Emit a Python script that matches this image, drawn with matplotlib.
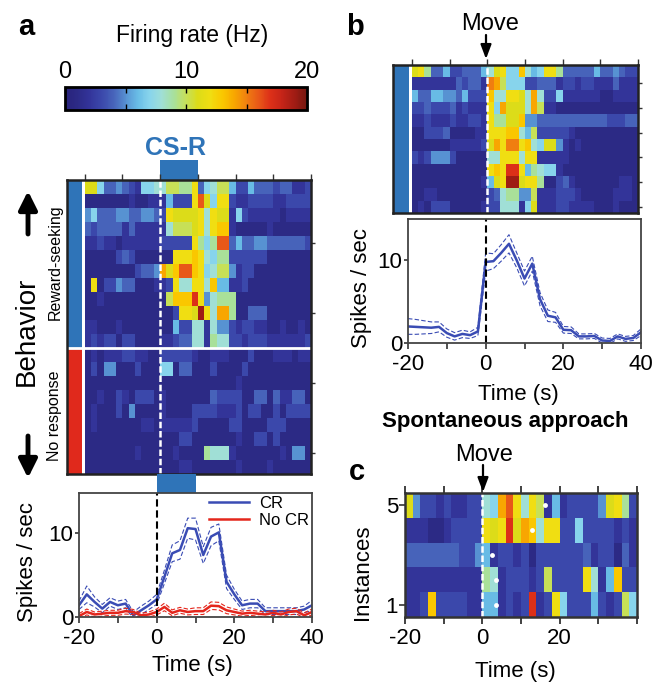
import numpy as np
import matplotlib
matplotlib.use("Agg")
import matplotlib.pyplot as plt
import matplotlib.patches as mpatches
import matplotlib.transforms as mtransforms
from matplotlib.colors import LinearSegmentedColormap, Normalize
from matplotlib.cm import ScalarMappable
from matplotlib.lines import Line2D

plt.rcParams["font.family"] = ["Liberation Sans", "DejaVu Sans"]
plt.rcParams["axes.unicode_minus"] = False

W, H = 668, 682

# ── heatmap data (one char per bin, firing rate in Hz, base-36: a=10 ... k=20) ──
# panel a: 12 reward-seeking trials then 9 no-response trials, 36 bins from -20 s
A_ROWS = [
    "bb74454327788aa99c478aa6336444344223",
    "11111112112226333cgb7cc3223333223333",
    "5744455445543cbbbbc8cbb2732222212222",
    "43444424222228aaabc8cdd2111112111111",
    "22322122222233333c979gg4644554444443",
    "11111343111111cccdc87993333331111111",
    "111111113445ebdggdc78aa5233111111111",
    "1c133544111223c88cc8d662231111111111",
    "1121111111111adddhc58999111111111111",
    "111111111111113ccbjc8ee9114441111111",
    "221112111111116338828553233221121121",
    "232331331111223448829883323332222223",
    "121222332211333332112221113111222122",
    "131551113111771441113111131111111111",
    "111111111111111111111111211111111111",
    "112113213331211111114333311441422441",
    "121113151111211113333222313311313333",
    "121111111221222223111113311113331111",
    "111111111111111331111111211331311111",
    "111111112111112111198882111111121551",
    "111111111111111221111111211112111111",
]
A_N_REWARD = 12

# panel b: 12 trials aligned to movement onset
B_ROWS = [
    "bc94463344468bc77d867cc9444446445433",
    "222222243442fea777334442332332224222",
    "644665546333d88ccb8e8337222222112222",
    "334333423222c7ebbb8ea221111111111111",
    "223222322332c99bbd554444444444433344",
    "113334111122cccdd86a3333321111111111",
    "111111222223becffcd87bb5212111111111",
    "32355531111188ccc8cc2222211111111111",
    "111111111111cdchhc698772111111111111",
    "1111111111126bcjjbcc9113421111111221",
    "1122111111113489955a2223332111112221",
    "1213331111123388827b2223322221112111",
]

# panel c: spontaneous approach instances 1..5, 2 s bins from -20 s
C_ROWS = [
    "223d333322662323h23c73336323a7",
    "222222222298233323a3333c826d33",
    "444444433562332313333334233142",
    "2221123333cbchbed8cc3373333232",
    "b53323223387egc8ca26233335bc93",
]
C_DOT_TIME = [3.6, 3.6, 2.5, 12.9, 16.2]
C_DOT_INST = [1, 2, 3, 4, 5]

# ── PSTH data ────────────────────────────────────────────────────────────────
TIME = [-20, -18, -16, -14, -12, -10, -8, -6, -4, -2, 0, 2, 4, 6, 8, 10,
        12, 14, 16, 18, 20, 22, 24, 26, 28, 30, 32, 34, 36, 38, 40]
CR_MEAN = [1.4, 2.7, 1.8, 1.0, 1.8, 1.4, 1.6, 0.2, 0.8, 1.4, 2.1, 4.8, 7.6, 8.0,
           10.6, 10.5, 7.4, 9.6, 10.1, 4.2, 2.7, 1.4, 1.6, 1.6, 0.7, 0.7, 0.7,
           0.7, 0.7, 0.9, 1.4]
CR_SEM = [0.5, 1.0, 0.6, 0.5, 0.5, 0.5, 0.5, 0.4, 0.5, 0.5, 0.6, 0.8, 1.0, 1.1,
          1.2, 1.3, 1.0, 1.1, 1.0, 0.8, 0.6, 0.5, 0.5, 0.5, 0.4, 0.4, 0.4, 0.4,
          0.4, 0.4, 0.6]
NOCR_MEAN = [0.1, 0.6, 0.3, 0.4, 0.5, 0.5, 0.7, 0.6, 0.2, 0.3, 0.6, 1.2, 0.5,
             0.8, 0.6, 0.7, 0.7, 1.35, 1.3, 0.8, 0.6, 0.4, 0.5, 0.4, 0.3, 0.5,
             0.3, 0.6, 0.7, 0.2, 0.6]
NOCR_SEM = [0.3, 0.35, 0.3, 0.3, 0.3, 0.3, 0.35, 0.3, 0.25, 0.3, 0.35, 0.45,
            0.35, 0.35, 0.35, 0.4, 0.4, 0.45, 0.45, 0.4, 0.35, 0.3, 0.3, 0.3,
            0.3, 0.3, 0.3, 0.35, 0.35, 0.3, 0.35]
B_MEAN = [2.0, 1.95, 1.9, 1.85, 1.95, 1.2, 0.8, 1.1, 0.95, 1.4, 9.8, 9.9, 10.9,
          12.0, 10.0, 7.8, 9.6, 5.3, 3.3, 3.1, 1.6, 1.55, 0.8, 0.8, 0.85, 0.3,
          0.25, 0.8, 0.5, 0.6, 1.3]
B_SEM = [0.95, 0.9, 0.8, 0.7, 0.6, 0.5, 0.45, 0.45, 0.4, 0.5, 1.1, 0.9, 1.0,
         1.1, 0.9, 0.9, 0.9, 0.8, 0.7, 0.6, 0.4, 0.4, 0.3, 0.3, 0.3, 0.3, 0.3,
         0.3, 0.3, 0.3, 0.4]

CS_ON, CS_OFF = 0, 10

# ── style ────────────────────────────────────────────────────────────────────
CMAP = LinearSegmentedColormap.from_list("rate", [
    "#29237c", "#2c2a86", "#33349a", "#3b48ab", "#4763ba", "#5791d2",
    "#69bde6", "#88d4ec", "#a0dfd6", "#a8e09a", "#c6e05a", "#dcdc18",
    "#f0de12", "#fac800", "#f8a800", "#f08010", "#e85818", "#dc3018",
    "#c42418", "#a01c14", "#781810"])
BLUE_TAG = "#2f74b8"
RED_TAG = "#e0291c"
LINE_BLUE = "#3a4cb4"
LINE_RED = "#e4261c"
SPINE = "#333333"
FS = 16


def decode(rows):
    return np.array([[int(ch, 36) for ch in r] for r in rows], dtype=float)


fig = plt.figure(figsize=(W / 100, H / 100), dpi=100)


def px_axes(x0, y0, x1, y1):
    return fig.add_axes([x0 / W, 1 - y1 / H, (x1 - x0) / W, (y1 - y0) / H])


def ftext(x, y, s, **kw):
    return fig.text(x / W, 1 - y / H, s, **kw)


def farrow(x, y0, y1, lw, hl, hw):
    fig.add_artist(mpatches.FancyArrowPatch(
        (x / W, 1 - y0 / H), (x / W, 1 - y1 / H), transform=fig.transFigure,
        arrowstyle=f"-|>,head_length={hl},head_width={hw}", mutation_scale=1,
        lw=lw, color="black", shrinkA=0, shrinkB=0))


def style_box(ax, lw=1.3, color=SPINE):
    for sp in ax.spines.values():
        sp.set_linewidth(lw)
        sp.set_color(color)


def heatmap(ax, rows, t0, binw, xmin, strips):
    data = decode(rows)
    nr, nc = data.shape
    xe = t0 + binw * np.arange(nc + 1)
    ax.pcolormesh(xe, np.arange(nr + 1), data, cmap=CMAP, vmin=0, vmax=20,
                  shading="flat", antialiased=False)
    for y0, y1, c in strips:
        ax.add_patch(mpatches.Rectangle((xmin, y0), t0 - 0.8 - xmin, y1 - y0,
                                        color=c, lw=0))
    ax.set_xlim(xmin, 40)
    ax.set_ylim(nr, 0)
    ax.axvline(0, color="white", lw=1.8, ls=(0, (2.6, 1.1)))
    ax.xaxis.tick_top()
    ax.set_xticks([-20, -10, 0, 10, 20, 30, 40])
    ax.tick_params(axis="x", direction="out", length=4, width=1,
                   color=SPINE, labeltop=False)
    ax.yaxis.tick_right()
    ax.tick_params(axis="y", direction="out", length=3, width=1,
                   color=SPINE, labelright=False)
    style_box(ax, lw=1.8, color="#222222")
    return nr


def psth(ax, series, ymax):
    for mean, sem, col in series:
        m = np.array(mean)
        s = np.array(sem)
        ax.plot(TIME, m + s, color=col, lw=0.8, ls=(0, (4, 2)))
        ax.plot(TIME, m - s, color=col, lw=0.8, ls=(0, (4, 2)))
        ax.plot(TIME, m, color=col, lw=1.8)
    ax.axvline(0, color="black", lw=1.5, ls=(0, (3.5, 1.8)))
    ax.set_xlim(-20, 40)
    ax.set_ylim(0, ymax)
    ax.set_xticks([-20, -10, 0, 10, 20, 30, 40])
    ax.set_xticklabels(["-20", "", "0", "", "20", "", "40"])
    ax.set_yticks([0, 10])
    ax.tick_params(axis="x", direction="out", length=4, width=1.2,
                   color=SPINE, labelsize=FS, pad=4)
    ax.tick_params(axis="y", direction="out", length=3, width=1.2,
                   color=SPINE, labelsize=FS, pad=1)
    style_box(ax, lw=1.3, color="#444444")


# ── colour bar ───────────────────────────────────────────────────────────────
cax = px_axes(65, 87, 307, 110)
cb = fig.colorbar(ScalarMappable(Normalize(0, 20), CMAP), cax=cax,
                  orientation="horizontal", ticks=[0, 10, 20])
cax.xaxis.set_ticks_position("top")
cax.set_xticks([5, 15], minor=True)
cax.tick_params(which="both", direction="in", length=4, width=1, top=True,
                bottom=True, labelbottom=False, labeltop=True,
                labelsize=17, pad=3)
cb.outline.set_linewidth(2)
ftext(192, 42, "Firing rate (Hz)", fontsize=16.5, ha="center", va="baseline")

# ── panel a ──────────────────────────────────────────────────────────────────
ax_a = px_axes(67, 180, 311, 474)
nr_a = heatmap(ax_a, A_ROWS, -20, 5 / 3, -24.7,
               [(0, A_N_REWARD, BLUE_TAG), (A_N_REWARD, len(A_ROWS), RED_TAG)])
ax_a.axhline(A_N_REWARD, color="white", lw=2)
ax_a.set_yticks([4.5, 9.5, 14.5, 19.5])
tr = mtransforms.blended_transform_factory(ax_a.transData, ax_a.transAxes)
ax_a.add_patch(mpatches.Rectangle((CS_ON, 1.0), CS_OFF - CS_ON, 20 / 294,
                                  transform=tr, color=BLUE_TAG, lw=0,
                                  clip_on=False))
ftext(175, 155, "CS-R", fontsize=18, fontweight="bold", color=BLUE_TAG,
      ha="center", va="baseline")

ax_ap = px_axes(79, 493, 312, 617)
psth(ax_ap, [(CR_MEAN, CR_SEM, LINE_BLUE), (NOCR_MEAN, NOCR_SEM, LINE_RED)],
     14.8)
tr = mtransforms.blended_transform_factory(ax_ap.transData, ax_ap.transAxes)
ax_ap.add_patch(mpatches.Rectangle((CS_ON, 1.0), CS_OFF - CS_ON, 19 / 124,
                                   transform=tr, color=BLUE_TAG, lw=0,
                                   clip_on=False))
ax_ap.legend(handles=[Line2D([], [], color=LINE_BLUE, lw=1.8, label="CR"),
                      Line2D([], [], color=LINE_RED, lw=1.8, label="No CR")],
             loc="upper right", bbox_to_anchor=(1.03, 1.06), frameon=False,
             fontsize=12, handlelength=2.4, handletextpad=0.6,
             labelspacing=0.15, borderaxespad=0.2)

ftext(26, 35, "a", fontsize=21, fontweight="bold", ha="center", va="baseline")
ftext(27, 331, "Behavior", fontsize=20, rotation=90, ha="center", va="center")
ftext(55, 262, "Reward-seeking", fontsize=11.5, rotation=90, ha="center",
      va="center")
ftext(55, 416, "No response", fontsize=11.5, rotation=90, ha="center",
      va="center")
farrow(28, 234, 191, 3.5, 11, 5.5)
farrow(28, 436, 478, 3.5, 11, 5.5)
ftext(27, 562, "Spikes / sec", fontsize=FS, rotation=90, ha="center",
      va="center")
ftext(192, 666, "Time (s)", fontsize=FS, ha="center", va="center")

# ── panel b ──────────────────────────────────────────────────────────────────
ax_b = px_axes(393, 65, 638, 213)
nr_b = heatmap(ax_b, B_ROWS, -20, 5 / 3, -25.0, [(0, len(B_ROWS), BLUE_TAG)])
ax_b.set_yticks([1.5, 3.5, 5.5, 7.5, 9.5, 11.5])

ax_bp = px_axes(408, 219, 641, 343)
psth(ax_bp, [(B_MEAN, B_SEM, LINE_BLUE)], 15.0)

ftext(355, 35, "b", fontsize=21, fontweight="bold", ha="center", va="baseline")
ftext(490, 30, "Move", fontsize=17, ha="center", va="baseline")
farrow(486, 35, 59, 1.6, 8.5, 3.2)
ftext(362, 288, "Spikes / sec", fontsize=FS, rotation=90, ha="center",
      va="center")
ftext(518, 394, "Time (s)", fontsize=FS, ha="center", va="center")

# ── panel c ──────────────────────────────────────────────────────────────────
ftext(505, 427, "Spontaneous approach", fontsize=16, fontweight="bold",
      ha="center", va="baseline")
ftext(484, 461, "Move", fontsize=17, ha="center", va="baseline")
farrow(483, 465, 492, 1.6, 8.5, 3.2)
ftext(357, 480, "c", fontsize=21, fontweight="bold", ha="center", va="baseline")

ax_c = px_axes(405, 493, 637, 617)
c_data = decode(C_ROWS)
xe = -20 + 2 * np.arange(c_data.shape[1] + 1)
ax_c.pcolormesh(xe, np.arange(c_data.shape[0] + 1) + 0.5, c_data, cmap=CMAP,
                vmin=0, vmax=20, shading="flat", antialiased=False)
ax_c.axvline(0, color="white", lw=1.8, ls=(0, (2.6, 1.1)))
ax_c.plot(C_DOT_TIME, C_DOT_INST, "o", color="white", ms=3.5, mec="none")
ax_c.set_xlim(-20, 40)
ax_c.set_ylim(0.5, 5.5)
ax_c.set_xticks([-20, -10, 0, 10, 20, 30, 40])
ax_c.set_xticklabels(["-20", "", "0", "", "20", "", ""])
ax_c.set_yticks([1, 5])
ax_c.tick_params(axis="x", direction="out", length=5, width=1.3, top=True,
                 color=SPINE, labelsize=FS, pad=3)
ax_c.tick_params(axis="y", direction="out", length=4, width=1.2,
                 color=SPINE, labelsize=FS, pad=1)
style_box(ax_c, lw=1.8, color="#333333")
ftext(363, 572, "Instances", fontsize=FS, rotation=90, ha="center",
      va="center")
ftext(515, 671, "Time (s)", fontsize=FS, ha="center", va="center")

fig.savefig("out.png", dpi=100)
